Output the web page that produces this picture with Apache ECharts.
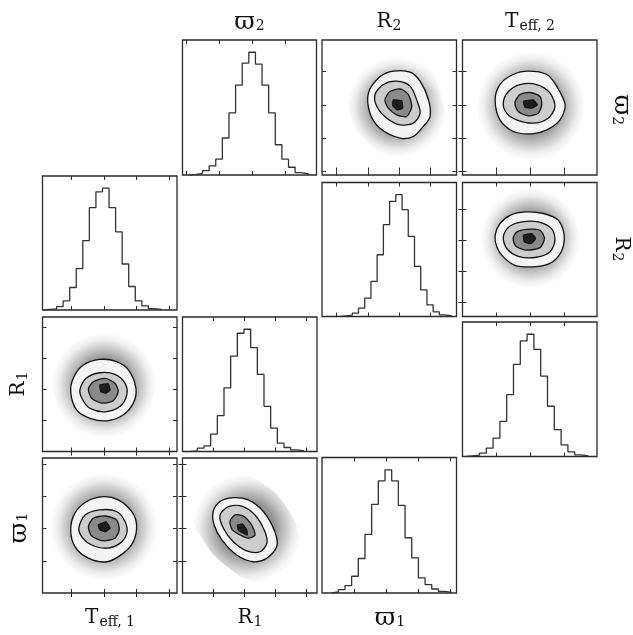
<!DOCTYPE html>
<html><head><meta charset="utf-8">
<script src="https://cdn.jsdelivr.net/npm/echarts@6/dist/echarts.min.js"></script>
<style>html,body{margin:0;padding:0;background:#fff}#c{width:633px;height:635px}</style>
</head><body><div id="c"></div>
<script>
// ---- axis ranges (tick units) and tick values per parameter ----
const rangeTeff1 = [0.131, 4.232], ticksTeff1 = [1, 2, 3, 4];
const rangeR1 = [0, 4.339], ticksR1 = [1, 2, 3, 4];
const rangeW1 = [0, 4.19], ticksW1 = [1, 2, 3, 4];
const rangeW2 = [-0.105, 3.946], ticksW2 = [0, 1, 2, 3];
const rangeR2 = [0.527, 4.85], ticksR2 = [1, 2, 3, 4];
const rangeTeff2 = [0, 3.956], ticksTeff2 = [1, 2, 3];

// ---- 1D histograms: first bin edge, bin width, counts ----
const histTeff1Start = 0.16, histTeff1Width = 0.2;
const histTeff1 = [2, 3, 10, 27, 67, 123, 207, 305, 352, 363, 305, 233, 137, 70, 27, 12, 4, 2];
const histW2Start = 0.1, histW2Width = 0.2;
const histW2 = [2, 5, 13, 27, 47, 110, 185, 267, 333, 365, 330, 267, 185, 90, 47, 23, 7, 3];
const histR1Start = 0.264, histR1Width = 0.215;
const histR1 = [2, 10, 17, 52, 107, 190, 285, 353, 365, 310, 230, 135, 70, 25, 12, 5, 2];
const histW1Start = 0.299, histW1Width = 0.208;
const histW1 = [3, 10, 22, 50, 103, 175, 265, 335, 368, 335, 262, 165, 105, 45, 25, 12, 5, 2];
const histR2Start = 1.1, histR2Width = 0.2;
const histR2 = [2, 4, 10, 25, 55, 105, 185, 275, 345, 365, 320, 240, 150, 80, 35, 14, 5, 2];
const histTeff2Start = 0.1, histTeff2Width = 0.2;
const histTeff2 = [2, 4, 10, 25, 55, 105, 185, 275, 345, 365, 320, 240, 150, 80, 35, 14, 5, 2];

// ---- 2D panels: point-cloud extent and contour levels (outer -> inner) ----
// A: x = R2, y = w2
const hazeA = [[1.43,2.61],[1.91,3.36],[2.87,3.60],[3.84,3.21],[4.39,2.15],[4.48,1.10],[3.84,0.41],[2.87,0.35],[1.91,0.95],[1.43,1.70]];
const c1A = [[2.02,2.36],[2.39,2.84],[2.82,3.01],[3.36,2.98],[3.68,2.71],[3.95,2.15],[4.00,1.65],[3.78,1.35],[3.46,1.05],[3.04,1.00],[2.39,1.30],[2.07,1.75]];
const c2A = [[2.23,2.31],[2.50,2.61],[2.93,2.71],[3.36,2.56],[3.57,2.15],[3.68,1.75],[3.46,1.45],[3.04,1.40],[2.61,1.60],[2.29,1.95]];
const c3A = [[2.55,2.15],[2.71,2.40],[3.04,2.48],[3.30,2.31],[3.41,1.95],[3.25,1.65],[2.93,1.70],[2.66,1.90]];
const c4A = [[2.82,2.15],[3.09,2.12],[3.12,1.90],[2.95,1.85],[2.80,1.97]];
// B: x = Teff2, y = w2
const hazeB = [[0.43,2.03],[0.66,3.06],[1.40,3.66],[1.99,3.81],[2.87,3.51],[3.46,2.76],[3.60,1.85],[3.31,0.95],[2.57,0.29],[1.84,0.11],[1.10,0.35],[0.57,1.10]];
const c1B = [[0.96,2.15],[1.10,2.61],[1.49,2.91],[1.94,3.01],[2.48,2.91],[2.77,2.56],[3.02,2.00],[2.87,1.55],[2.48,1.25],[2.04,1.13],[1.49,1.20],[1.10,1.55]];
const c2B = [[1.20,2.06],[1.35,2.40],[1.69,2.61],[2.18,2.61],[2.57,2.36],[2.72,1.95],[2.52,1.60],[2.08,1.45],[1.59,1.55],[1.30,1.75]];
const c3B = [[1.54,2.06],[1.69,2.31],[1.99,2.37],[2.28,2.25],[2.33,2.00],[2.23,1.75],[1.94,1.67],[1.64,1.80]];
const c4B = [[1.79,2.10],[2.08,2.15],[2.20,2.00],[2.04,1.90],[1.84,1.93]];
// C: x = Teff2, y = R2
const hazeC = [[0.37,3.05],[0.57,3.95],[1.10,4.43],[1.93,4.66],[2.87,4.43],[3.46,3.79],[3.63,2.99],[3.40,2.18],[2.72,1.64],[1.93,1.44],[1.10,1.64],[0.57,2.18]];
const c1C = [[0.96,3.15],[1.10,3.52],[1.40,3.79],[1.85,3.90],[2.38,3.85],[2.82,3.63],[2.99,3.15],[2.90,2.61],[2.57,2.24],[2.08,2.13],[1.54,2.18],[1.20,2.45],[1.01,2.77]];
const c2C = [[1.20,3.09],[1.35,3.41],[1.74,3.58],[2.23,3.58],[2.62,3.36],[2.72,2.99],[2.57,2.61],[2.13,2.43],[1.64,2.47],[1.30,2.72]];
const c3C = [[1.49,3.04],[1.59,3.25],[1.89,3.34],[2.28,3.31],[2.41,3.04],[2.28,2.75],[1.89,2.67],[1.57,2.79]];
const c4C = [[1.79,3.15],[2.04,3.20],[2.15,3.04],[2.02,2.88],[1.82,2.93]];
// D: x = Teff1, y = R1
const hazeD = [[0.36,2.02],[0.60,2.95],[1.12,3.53],[2.04,3.82],[2.95,3.60],[3.47,2.95],[3.65,2.02],[3.41,1.18],[2.89,0.63],[2.04,0.44],[1.21,0.69],[0.60,1.18]];
const c1D = [[0.99,1.93],[1.09,2.41],[1.38,2.79],[1.88,2.97],[2.39,2.90],[2.75,2.63],[2.98,2.04],[2.90,1.56],[2.59,1.18],[2.09,0.99],[1.58,1.07],[1.17,1.34]];
const c2D = [[1.27,1.98],[1.46,2.36],[1.88,2.54],[2.34,2.49],[2.65,2.20],[2.70,1.82],[2.49,1.45],[2.04,1.28],[1.58,1.39],[1.36,1.66]];
const c3D = [[1.53,2.02],[1.68,2.25],[2.04,2.36],[2.34,2.20],[2.44,1.93],[2.29,1.64],[1.94,1.56],[1.63,1.72]];
const c4D = [[1.88,2.15],[2.14,2.18],[2.19,1.98],[2.07,1.88],[1.91,1.93]];
// E: x = Teff1, y = w1
const hazeE = [[0.36,2.02],[0.60,2.95],[1.12,3.51],[2.01,3.76],[2.95,3.57],[3.47,2.95],[3.65,2.02],[3.41,1.09],[2.86,0.56],[2.01,0.34],[1.12,0.56],[0.60,1.09]];
const c1E = [[0.99,1.96],[1.12,2.48],[1.48,2.84],[1.99,2.99],[2.44,2.89],[2.85,2.53],[3.00,2.11],[2.90,1.59],[2.59,1.23],[2.09,0.97],[1.53,1.08],[1.12,1.44]];
const c2E = [[1.24,2.01],[1.43,2.42],[1.88,2.58],[2.39,2.53],[2.65,2.21],[2.70,1.85],[2.49,1.54],[2.09,1.39],[1.63,1.49],[1.36,1.70]];
const c3E = [[1.53,2.06],[1.68,2.32],[2.04,2.39],[2.39,2.27],[2.47,1.96],[2.34,1.70],[1.99,1.62],[1.63,1.77]];
const c4E = [[1.83,2.11],[2.07,2.21],[2.19,2.01],[2.04,1.90],[1.88,1.96]];
// F: x = R1, y = w1
const hazeF = [[0.40,3.04],[0.89,3.57],[1.69,3.73],[2.50,3.45],[3.31,2.73],[3.79,1.65],[3.73,0.78],[3.15,0.31],[2.34,0.34],[1.37,0.87],[0.66,1.65],[0.34,2.42]];
const c1F = [[0.99,2.53],[1.21,2.84],[1.64,2.96],[2.12,2.89],[2.61,2.53],[2.98,1.90],[3.04,1.44],[2.72,1.08],[2.28,0.97],[1.75,1.18],[1.27,1.65],[1.02,2.11]];
const c2F = [[1.21,2.42],[1.48,2.68],[1.91,2.70],[2.34,2.42],[2.66,1.90],[2.72,1.54],[2.50,1.28],[2.07,1.31],[1.64,1.59],[1.32,2.01]];
const c3F = [[1.53,2.21],[1.69,2.42],[1.96,2.39],[2.23,2.11],[2.34,1.80],[2.12,1.70],[1.86,1.80],[1.61,1.96]];
const c4F = [[1.77,2.11],[1.94,2.14],[2.07,1.96],[2.09,1.80],[1.94,1.87],[1.80,1.96]];

// ---- labels ----
const VARPI = '\u03D6';
const labelsTop = [[VARPI, '2'], ['R', '2'], ['T', 'eff, 2']];
const labelsBottom = [['T', 'eff, 1'], ['R', '1'], [VARPI, '1']];
const labelsLeft = [['R', '1'], [VARPI, '1']];
const labelsRight = [[VARPI, '2'], ['R', '2']];

// ================= build =================
const INK = '#2a2a2a';
const option = { animation: false, backgroundColor: '#fff', grid: [], xAxis: [], yAxis: [], series: [], graphic: [] };

function addGrid(b) {
  option.grid.push({ left: b[0], top: b[1], width: b[2], height: b[3], show: true,
    borderColor: INK, borderWidth: 1.3, backgroundColor: 'transparent' });
  return option.grid.length - 1;
}
function addAxis(gi, dim, pos, range, ticks) {
  const ax = { type: 'value', gridIndex: gi, position: pos, min: range[0], max: range[1],
    axisLine: { show: false }, splitLine: { show: false }, axisLabel: { show: false },
    axisTick: ticks ? { show: true, inside: true, length: 4, customValues: ticks,
      lineStyle: { color: INK, width: 1 } } : { show: false } };
  const arr = dim === 'x' ? option.xAxis : option.yAxis;
  arr.push(ax);
  return arr.length - 1;
}
function stepPoints(start, width, counts) {
  const pts = [[start, 0]];
  counts.forEach((c, i) => { pts.push([start + i * width, c]); pts.push([start + (i + 1) * width, c]); });
  pts.push([start + counts.length * width, 0]);
  return pts;
}
function histPanel(box, range, ticks, start, width, counts) {
  const gi = addGrid(box);
  const xi = addAxis(gi, 'x', 'bottom', range, ticks);
  addAxis(gi, 'x', 'top', range, ticks);
  const yi = addAxis(gi, 'y', 'left', [0, 1.1 * Math.max(...counts)], null);
  option.series.push({ type: 'line', xAxisIndex: xi, yAxisIndex: yi, data: stepPoints(start, width, counts),
    symbol: 'none', clip: true, silent: true, lineStyle: { color: '#333', width: 1.3 } });
}
function polySeries(xi, yi, pts, style, smooth) {
  return { type: 'custom', xAxisIndex: xi, yAxisIndex: yi, clip: true, silent: true,
    data: pts, encode: { x: 0, y: 1 },
    renderItem: function (params, api) {
      if (params.dataIndex !== 0) return null;
      const points = pts.map(p => api.coord(p));
      return { type: 'polygon', shape: { points: points, smooth: smooth }, style: style };
    } };
}
function pairPanel(box, xr, xt, yr, yt, haze, c1, c2, c3, c4) {
  const gi = addGrid(box);
  const xi = addAxis(gi, 'x', 'bottom', xr, xt);
  addAxis(gi, 'x', 'top', xr, xt);
  const yi = addAxis(gi, 'y', 'left', yr, yt);
  addAxis(gi, 'y', 'right', yr, yt);
  const grad = new echarts.graphic.RadialGradient(0.5, 0.5, 0.5, [
    { offset: 0, color: 'rgba(0,0,0,0.50)' }, { offset: 0.5, color: 'rgba(0,0,0,0.42)' },
    { offset: 0.7, color: 'rgba(0,0,0,0.22)' }, { offset: 0.86, color: 'rgba(0,0,0,0.07)' },
    { offset: 1, color: 'rgba(0,0,0,0.0)' }]);
  option.series.push(polySeries(xi, yi, haze, { fill: grad, stroke: 'none' }, 0.5));
  const line = { stroke: '#111', lineWidth: 1.3 };
  option.series.push(polySeries(xi, yi, c1, Object.assign({ fill: '#f4f4f4' }, line), 0.3));
  option.series.push(polySeries(xi, yi, c2, Object.assign({ fill: '#cdcdcd' }, line), 0.3));
  option.series.push(polySeries(xi, yi, c3, Object.assign({ fill: '#8a8a8a' }, line), 0.25));
  option.series.push(polySeries(xi, yi, c4, Object.assign({ fill: '#1e1e1e' }, line), 0.1));
}

// row 0
histPanel([182.5, 40, 134, 135], rangeW2, ticksW2, histW2Start, histW2Width, histW2);
pairPanel([322, 40, 134.5, 135], rangeR2, ticksR2, rangeW2, ticksW2, hazeA, c1A, c2A, c3A, c4A);
pairPanel([462.5, 40, 134.5, 135], rangeTeff2, ticksTeff2, rangeW2, ticksW2, hazeB, c1B, c2B, c3B, c4B);
// row 1
histPanel([42.5, 176, 134.5, 134], rangeTeff1, ticksTeff1, histTeff1Start, histTeff1Width, histTeff1);
histPanel([322, 182.5, 134.5, 134], rangeR2, ticksR2, histR2Start, histR2Width, histR2);
pairPanel([462.5, 182.5, 134.5, 134], rangeTeff2, ticksTeff2, rangeR2, ticksR2, hazeC, c1C, c2C, c3C, c4C);
// row 2
pairPanel([42.5, 317, 134.5, 134.5], rangeTeff1, ticksTeff1, rangeR1, ticksR1, hazeD, c1D, c2D, c3D, c4D);
histPanel([182.5, 317, 134.5, 134.5], rangeR1, ticksR1, histR1Start, histR1Width, histR1);
histPanel([462.5, 322, 134.5, 134.5], rangeTeff2, ticksTeff2, histTeff2Start, histTeff2Width, histTeff2);
// row 3
pairPanel([42.5, 458, 134.5, 135], rangeTeff1, ticksTeff1, rangeW1, ticksW1, hazeE, c1E, c2E, c3E, c4E);
pairPanel([182.5, 458, 134.5, 135], rangeR1, ticksR1, rangeW1, ticksW1, hazeF, c1F, c2F, c3F, c4F);
histPanel([322, 457.5, 134.5, 135.5], rangeW1, ticksW1, histW1Start, histW1Width, histW1);

// labels
const FONT = 'DejaVu Serif';
function label(x, y, pair, rot) {
  const big = pair[0] === VARPI;
  return { type: 'text', x: x, y: y, rotation: rot || 0, silent: true,
    style: { text: '{m|' + pair[0] + '}{s|' + pair[1] + '}', align: 'center', verticalAlign: 'middle',
      rich: { m: { fontSize: big ? 25 : 20, fontFamily: FONT, fill: '#111' },
              s: { fontSize: 14, fontFamily: FONT, fill: '#111', padding: [big ? 9 : 8, 0, 0, 1] } } } };
}
const topX = [249.5, 389, 530], bottomX = [110, 250, 390], leftY = [384, 528], rightY = [110, 249];
labelsTop.forEach((p, i) => option.graphic.push(label(topX[i], 22, p)));
labelsBottom.forEach((p, i) => option.graphic.push(label(bottomX[i], 618, p)));
labelsLeft.forEach((p, i) => option.graphic.push(label(19, leftY[i], p, Math.PI / 2)));
labelsRight.forEach((p, i) => option.graphic.push(label(621, rightY[i], p, -Math.PI / 2)));

const chart = echarts.init(document.getElementById('c'), null, { renderer: 'canvas' });
chart.setOption(option);
</script></body></html>
